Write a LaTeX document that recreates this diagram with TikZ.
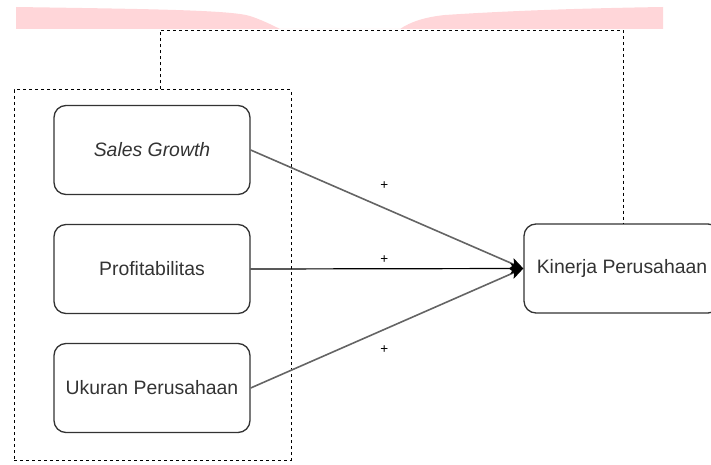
\documentclass[tikz,border=0pt]{standalone}
\usepackage{fontspec}
\setmainfont{Liberation Sans}
\usepackage{tikz}
\usetikzlibrary{arrows.meta, positioning, calc}

\definecolor{pinkband}{RGB}{255,214,217}
\definecolor{boxline}{RGB}{51,51,51}
\definecolor{textgray}{RGB}{51,51,51}
\definecolor{edgegray}{RGB}{100,100,100}

\tikzset{
    varbox/.style={draw=boxline, line width=1.3pt, rounded corners=12pt, minimum width=196pt, minimum height=89pt, text=textgray, font=\fontsize{19.4}{23}\selectfont},
    groupbox/.style={draw=black, line width=1pt, dash pattern=on 3pt off 3pt, minimum width=277pt, minimum height=370pt},
    link/.style={black, line width=1pt, dash pattern=on 3pt off 3pt},
    effect/.style={-{Stealth[length=13pt, width=11pt, inset=3pt, color=black]}, line width=1.6pt, edgegray},
    sign/.style={font=\fontsize{13.5}{15}\selectfont, text=black, inner sep=0pt}
}

\begin{document}
\begin{tikzpicture}[x=1pt, y=-1pt]
        \useasboundingbox (0,0) rectangle (711,465);
        
        % pita merah muda di atas
        \fill[pinkband] (16,7) .. controls (150,9) and (230,10) .. (250,16)
            .. controls (262,20) and (272,25) .. (280,29) -- (400,29)
            .. controls (410,22) and (425,17) .. (445,15)
            .. controls (520,10) and (600,8) .. (663,7) -- (663,29) -- (16,29) -- cycle;
        
        \node[groupbox] (grp) at (152.5,275) {};
        \node[varbox] (sg) at (152,150) {\itshape Sales Growth};
        \node[varbox] (prof) at (152,269) {Profitabilitas};
        \node[varbox] (uk) at (152,388) {Ukuran Perusahaan};
        \node[varbox] (kin) at (622,268.5) {Kinerja Perusahaan};
        
        \draw[link] ([xshift=7.5pt]grp.north) -- ++(0,-59) -| ([xshift=1pt]kin.north);
        
        \draw[effect] (sg.east) -- node[sign, pos=0.49, yshift=22.5pt] (p1) {+} (kin.west);
        \draw[effect] (uk.east) -- node[sign, pos=0.49, yshift=-20pt] (p3) {+} (kin.west);
        \draw[effect, black, line width=1.2pt] (prof.east) -- node[sign, pos=0.49, yshift=9pt] (p2) {+} (kin.west);
        
    \end{tikzpicture}
\end{document}
